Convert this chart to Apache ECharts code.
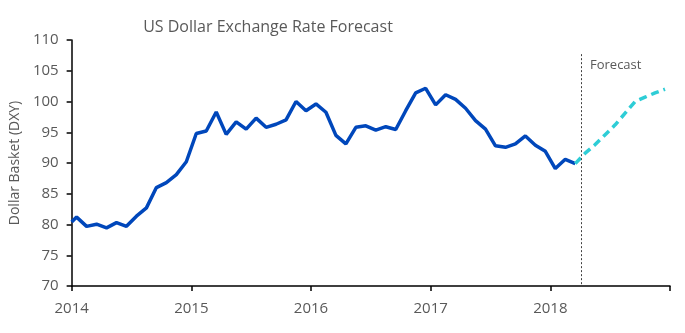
<!DOCTYPE html>
<html>
<head>
<meta charset="utf-8">
<script src="https://cdn.jsdelivr.net/npm/echarts@6/dist/echarts.min.js"></script>
<style>
  html, body { margin: 0; padding: 0; background: #fff; }
  #chart { width: 685px; height: 333px; }
</style>
</head>
<body>
<div id="chart"></div>
<script>
// Monthly DXY readings (mid-month)
const histMonths = [
  '2014-01', '2014-02', '2014-03', '2014-04', '2014-05', '2014-06',
  '2014-07', '2014-08', '2014-09', '2014-10', '2014-11', '2014-12',
  '2015-01', '2015-02', '2015-03', '2015-04', '2015-05', '2015-06',
  '2015-07', '2015-08', '2015-09', '2015-10', '2015-11', '2015-12',
  '2016-01', '2016-02', '2016-03', '2016-04', '2016-05', '2016-06',
  '2016-07', '2016-08', '2016-09', '2016-10', '2016-11', '2016-12',
  '2017-01', '2017-02', '2017-03', '2017-04', '2017-05', '2017-06',
  '2017-07', '2017-08', '2017-09', '2017-10', '2017-11', '2017-12',
  '2018-01', '2018-02', '2018-03'
];
const histValues = [
  81.2, 79.7, 80.05, 79.45, 80.3, 79.7, 81.35, 82.7, 86.0, 86.8, 88.1, 90.2,
  94.8, 95.2, 98.3, 94.65, 96.7, 95.5, 97.3, 95.8, 96.3, 97.0, 100.0, 98.5,
  99.6, 98.25, 94.5, 93.1, 95.8, 96.05, 95.35, 95.9, 95.45, 98.5, 101.4, 102.15,
  99.45, 101.1, 100.35, 98.9, 96.9, 95.5, 92.8, 92.55, 93.1, 94.4, 92.9, 91.9,
  89.1, 90.6, 89.9
];
const startValue = 80.4; // value at the very start of Jan 2014

const forecastMonths = [
  '2018-03', '2018-04', '2018-05', '2018-06', '2018-07',
  '2018-08', '2018-09', '2018-10', '2018-11', '2018-12'
];
const forecastValues = [89.9, 91.6, 93.0, 94.6, 96.2, 98.1, 100.0, 100.7, 101.4, 102.0];

const forecastStart = 2018.26;
const yTicks = [70, 75, 80, 85, 90, 95, 100, 105, 110];
const xYears = [2014, 2015, 2016, 2017, 2018, 2019];

// convert 'YYYY-MM' to fractional year at mid-month
function toYear(s) {
  const [y, m] = s.split('-').map(Number);
  return y + (m - 0.5) / 12;
}

const histData = [[2014, startValue]].concat(histMonths.map((m, i) => [toYear(m), histValues[i]]));
const forecastData = forecastMonths.map((m, i) => [toYear(m), forecastValues[i]]);

const chart = echarts.init(document.getElementById('chart'));
const labelColor = '#595959';
const font = 'Open Sans';

const option = {
  animation: false,
  title: {
    text: 'US Dollar Exchange Rate Forecast',
    left: 263,
    textAlign: 'center',
    top: 14,
    textStyle: { fontFamily: font, fontSize: 16, fontWeight: 'normal', color: labelColor }
  },
  grid: { left: 69, right: 15, top: 40, bottom: 47 },
  xAxis: {
    type: 'value',
    min: xYears[0],
    max: xYears[xYears.length - 1],
    interval: 1,
    splitLine: { show: false },
    axisLine: { lineStyle: { color: '#000', width: 1.5 } },
    axisTick: { show: true, length: 5, lineStyle: { color: '#000', width: 1.5 } },
    axisLabel: {
      color: labelColor, fontFamily: font, fontSize: 15, margin: 15,
      formatter: v => (v < 2019 ? String(v) : '')
    }
  },
  yAxis: {
    type: 'value',
    min: yTicks[0],
    max: yTicks[yTicks.length - 1],
    interval: 5,
    name: 'Dollar Basket (DXY)',
    nameLocation: 'middle',
    nameGap: 45,
    nameTextStyle: { color: labelColor, fontFamily: font, fontSize: 14 },
    splitLine: { show: false },
    axisLine: { show: true, lineStyle: { color: '#000', width: 1.5 } },
    axisTick: { show: true, length: 5, lineStyle: { color: '#000', width: 1.5 } },
    axisLabel: { color: labelColor, fontFamily: font, fontSize: 15, margin: 13 }
  },
  series: [
    {
      name: 'DXY',
      type: 'line',
      data: histData,
      showSymbol: false,
      lineStyle: { color: '#0047bb', width: 3.5 },
      z: 3
    },
    {
      name: 'Forecast',
      type: 'line',
      data: forecastData,
      showSymbol: false,
      lineStyle: { color: '#2ecdd6', width: 3.5, type: [8, 5] },
      z: 3,
      markLine: {
        silent: true,
        symbol: 'none',
        label: { show: false },
        lineStyle: { color: '#404040', width: 1, type: [2, 2] },
        data: [[{ coord: [forecastStart, 107.7] }, { coord: [forecastStart, 70] }]]
      }
    }
  ],
  graphic: [{
    type: 'text',
    left: 590,
    top: 59,
    style: { text: 'Forecast', fill: labelColor, font: '13px "Open Sans"' }
  }]
};

chart.setOption(option);
</script>
</body>
</html>
